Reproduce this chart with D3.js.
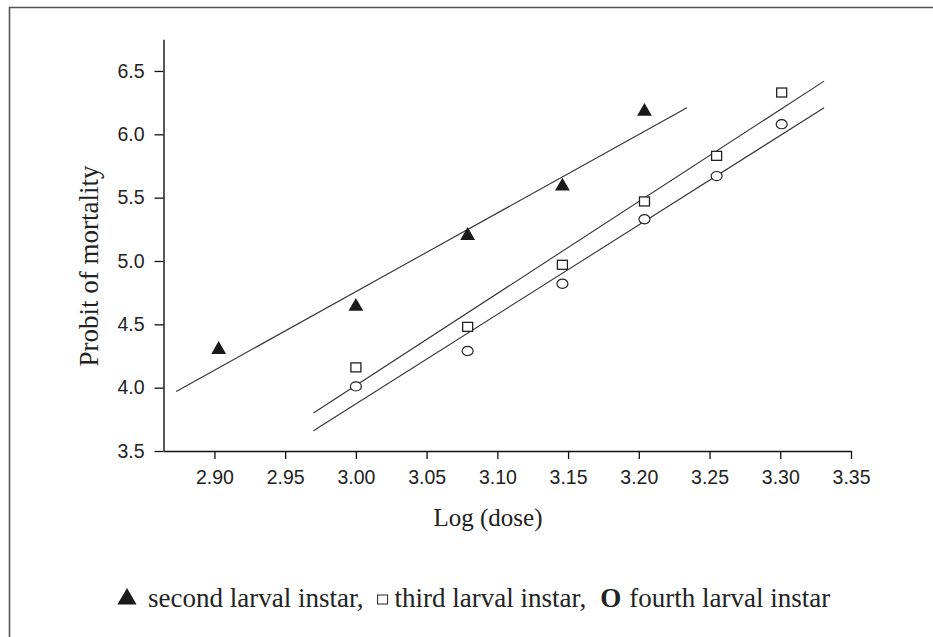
<!DOCTYPE html>
<html>
<head>
<meta charset="utf-8">
<script src="https://cdn.jsdelivr.net/npm/d3@7"></script>
<style>
  body { margin: 0; background: #fff; }
  svg { display: block; }
</style>
</head>
<body>
<div id="chart"></div>
<script>
// log(dose) and probit values
var doseSecond = [2.903, 3.000, 3.079, 3.146, 3.204];
var probitSecond = [4.30, 4.64, 5.20, 5.59, 6.18];
var doseThird = [3.000, 3.079, 3.146, 3.204, 3.255, 3.301];
var probitThird = [4.16, 4.48, 4.97, 5.47, 5.83, 6.33];
var doseFourth = [3.000, 3.079, 3.146, 3.204, 3.255, 3.301];
var probitFourth = [4.01, 4.29, 4.82, 5.33, 5.67, 6.08];

// end points of the fitted lines (second, third, fourth)
var fitX = [[2.873, 3.234], [2.970, 3.331], [2.970, 3.331]];
var fitY = [[3.97, 6.21], [3.80, 6.42], [3.66, 6.21]];

var xTicks = [2.90, 2.95, 3.00, 3.05, 3.10, 3.15, 3.20, 3.25, 3.30, 3.35];
var xMinor = [2.875, 2.925, 2.975, 3.025, 3.075, 3.125, 3.175, 3.225, 3.275, 3.325];
var yTicks = [3.5, 4.0, 4.5, 5.0, 5.5, 6.0, 6.5];
var yMinor = [3.75, 4.25, 4.75, 5.25, 5.75, 6.25, 6.75];

var legendLabels = ["second larval instar,", "third larval instar,", "fourth larval instar"];

var width = 933;
var height = 637;

var svg = d3.select("#chart").append("svg")
  .attr("width", width).attr("height", height);

// outer frame, only left and top edges are visible
svg.append("path")
  .attr("d", "M9.5," + height + "V7.5H" + width)
  .attr("fill", "none")
  .attr("stroke", "#555")
  .attr("stroke-width", 1.6);

var x = d3.scaleLinear().domain([2.864, 3.35]).range([163.5, 851]);
var y = d3.scaleLinear().domain([3.5, 6.75]).range([451, 39.3]);

var tickFont = "'Liberation Sans', Arial, sans-serif";
var serif = "'Liberation Serif', 'Times New Roman', serif";

// y axis
var gy = svg.append("g").attr("transform", "translate(" + x.range()[0] + ",0)");
gy.call(d3.axisLeft(y).tickValues(yMinor).tickSize(5).tickSizeOuter(0).tickFormat(""));
gy.call(d3.axisLeft(y).tickValues(yTicks).tickSize(9).tickSizeOuter(0).tickPadding(10)
  .tickFormat(d3.format(".1f")));

// x axis
var gx = svg.append("g").attr("transform", "translate(0," + y.range()[0] + ")");
gx.call(d3.axisBottom(x).tickValues(xMinor).tickSize(4).tickSizeOuter(0).tickFormat(""));
gx.call(d3.axisBottom(x).tickValues(xTicks).tickSize(8).tickSizeOuter(0).tickPadding(11)
  .tickFormat(d3.format(".2f")));

svg.selectAll(".domain").attr("stroke", "#111").attr("stroke-width", 1.4);
svg.selectAll(".tick line").attr("stroke", "#111").attr("stroke-width", 1.3);
svg.selectAll(".tick text")
  .attr("font-family", tickFont)
  .attr("font-size", 19.5)
  .attr("fill", "#222");

// axis titles
svg.append("text")
  .attr("transform", "translate(98,266) rotate(-90)")
  .attr("text-anchor", "middle")
  .attr("font-family", serif)
  .attr("font-size", 27)
  .attr("fill", "#222")
  .text("Probit of mortality");

svg.append("text")
  .attr("x", 488)
  .attr("y", 526)
  .attr("text-anchor", "middle")
  .attr("font-family", serif)
  .attr("font-size", 25)
  .attr("fill", "#222")
  .text("Log (dose)");

// fitted lines
var line = d3.line().x(function(d){ return x(d[0]); }).y(function(d){ return y(d[1]); });
svg.selectAll(".fit")
  .data(fitX.map(function(xs, i){ return d3.zip(xs, fitY[i]); }))
  .enter().append("path")
    .attr("class", "fit")
    .attr("d", line)
    .attr("fill", "none")
    .attr("stroke", "#333")
    .attr("stroke-width", 1.1);

// markers
var tri = d3.symbol().type(d3.symbolTriangle).size(95);
svg.selectAll(".second")
  .data(d3.zip(doseSecond, probitSecond))
  .enter().append("path")
    .attr("class", "second")
    .attr("d", tri)
    .attr("transform", function(d){ return "translate(" + x(d[0]) + "," + y(d[1]) + ")"; })
    .attr("fill", "#1a1a1a");

svg.selectAll(".third")
  .data(d3.zip(doseThird, probitThird))
  .enter().append("rect")
    .attr("class", "third")
    .attr("x", function(d){ return x(d[0]) - 5; })
    .attr("y", function(d){ return y(d[1]) - 4.5; })
    .attr("width", 10)
    .attr("height", 9)
    .attr("fill", "#fff")
    .attr("stroke", "#222")
    .attr("stroke-width", 1.3);

svg.selectAll(".fourth")
  .data(d3.zip(doseFourth, probitFourth))
  .enter().append("ellipse")
    .attr("class", "fourth")
    .attr("cx", function(d){ return x(d[0]); })
    .attr("cy", function(d){ return y(d[1]); })
    .attr("rx", 5.5)
    .attr("ry", 4.6)
    .attr("fill", "#fff")
    .attr("stroke", "#222")
    .attr("stroke-width", 1.2);

// legend, laid out left to right
var legY = 607;
var legSize = 27;
var lg = svg.append("g");
var cx = 118;

lg.append("path")
  .attr("d", d3.symbol().type(d3.symbolTriangle).size(160))
  .attr("transform", "translate(" + (cx + 9) + "," + (legY - 8) + ")")
  .attr("fill", "#1a1a1a");
cx += 30;

function addText(str, weight) {
  var t = lg.append("text")
    .attr("x", cx)
    .attr("y", legY)
    .attr("font-family", serif)
    .attr("font-size", legSize)
    .attr("font-weight", weight || "normal")
    .attr("fill", "#222")
    .text(str);
  cx += t.node().getComputedTextLength();
}

addText(legendLabels[0]);
cx += 14;
lg.append("rect")
  .attr("x", cx).attr("y", legY - 12)
  .attr("width", 10).attr("height", 9)
  .attr("fill", "#fff").attr("stroke", "#222").attr("stroke-width", 1);
cx += 17;
addText(legendLabels[1]);
cx += 14;
addText("O", "bold");
cx += 8;
addText(legendLabels[2]);
</script>
</body>
</html>
